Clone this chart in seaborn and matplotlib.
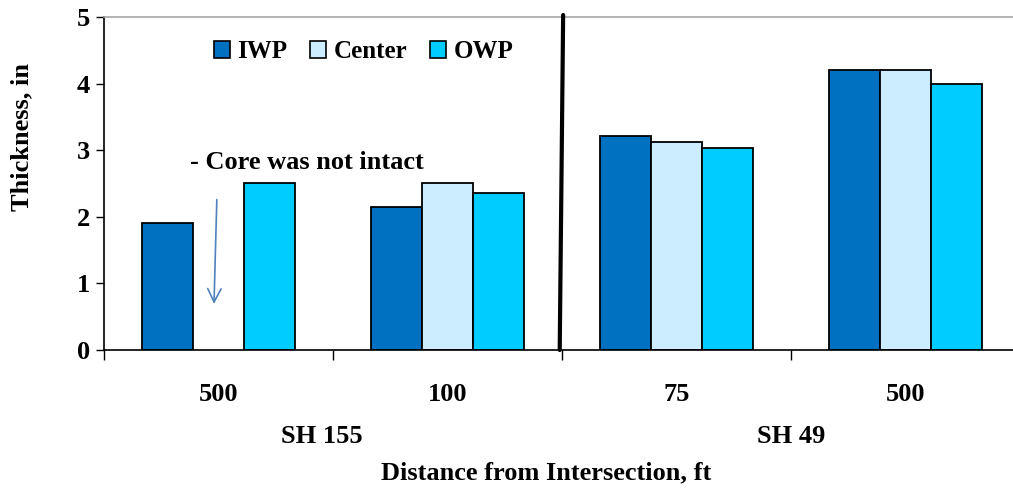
import matplotlib
matplotlib.use('Agg')
import matplotlib.pyplot as plt
from matplotlib.patches import Patch
import seaborn as sns
import pandas as pd
import numpy as np

# data
groups = ['SH155-500', 'SH155-100', 'SH49-75', 'SH49-500']
tick_labels = ['500', '100', '75', '500']
highways = ['SH 155', 'SH 49']
positions = ['IWP', 'Center', 'OWP']
iwp = [1.9, 2.15, 3.22, 4.2]
center = [np.nan, 2.5, 3.12, 4.2]
owp = [2.5, 2.35, 3.04, 4.0]
colors = ['#0070C0', '#CCECFF', '#00CCFF']

df = pd.DataFrame({
    'group': groups * 3,
    'position': ['IWP'] * 4 + ['Center'] * 4 + ['OWP'] * 4,
    'thickness': iwp + center + owp,
})

sns.set_style('white')
plt.rcParams['font.family'] = ['Liberation Serif', 'DejaVu Serif']
plt.rcParams['font.weight'] = 'bold'
plt.rcParams['text.color'] = 'black'
plt.rcParams['xtick.color'] = 'black'
plt.rcParams['ytick.color'] = 'black'
FS = 19

fig = plt.figure(figsize=(10.13, 4.94), dpi=100)
ax = fig.add_axes([104 / 1013, 144 / 494, 916 / 1013, 333 / 494])

sns.barplot(data=df, x='group', y='thickness', hue='position', order=groups,
            hue_order=positions, palette=colors, width=0.67, edgecolor='black',
            linewidth=1.3, saturation=1, legend=False, ax=ax)

ax.set_xlim(-0.5, 3.5)
ax.set_ylim(0, 5)
ax.set_yticks(range(6))
ax.set_yticklabels([str(i) for i in range(6)], fontsize=FS, fontweight='bold')
ax.set_xticks(range(4))
ax.set_xticklabels(tick_labels, fontsize=FS, fontweight='bold')
ax.tick_params(axis='x', which='major', bottom=False, length=0, pad=24)
ax.set_xticks([-0.5, 0.5, 1.5, 2.5], minor=True)
ax.tick_params(axis='x', which='minor', bottom=True, length=7, width=1,
               color='black', direction='out')
ax.tick_params(axis='y', left=True, length=6, width=1, color='black',
               direction='out', pad=4)
ax.set_xlabel('')
ax.set_ylabel('')

for s in ['left', 'bottom']:
    ax.spines[s].set_color('black')
    ax.spines[s].set_linewidth(1.2)
ax.spines['top'].set_color('#A6A6A6')
ax.spines['top'].set_linewidth(1.2)
ax.spines['right'].set_visible(False)

# divider between highways
ax.plot([1.505, 1.49], [5.03, 0], color='black', lw=3, clip_on=False, zorder=5)

# highway labels
ax.text(0.45, -0.26, highways[0], transform=ax.get_xaxis_transform(),
        ha='center', va='center', fontsize=FS, fontweight='bold')
ax.text(2.5, -0.26, highways[1], transform=ax.get_xaxis_transform(),
        ha='center', va='center', fontsize=FS, fontweight='bold')

# note for missing core
ax.text(-0.125, 2.81, '- Core was not intact', ha='left', va='center',
        fontsize=FS, fontweight='bold')
ax.annotate('', xy=(-0.02, 0.65), xytext=(-0.007, 2.3),
            arrowprops=dict(arrowstyle='->', color='#4F81BD', lw=1.2,
                            mutation_scale=24))

handles = [Patch(facecolor=c, edgecolor='black', linewidth=1.2) for c in colors]
ax.legend(handles, positions, ncol=3, frameon=False, loc='center left',
          bbox_to_anchor=(0.106, 0.895), handlelength=0.65, handleheight=0.65,
          handletextpad=0.3, columnspacing=0.9, borderpad=0,
          prop={'size': 18, 'weight': 'bold'})

fig.text(546 / 1013, 1 - 473 / 494, 'Distance from Intersection, ft',
         ha='center', va='center', fontsize=FS, fontweight='bold')
fig.text(22 / 1013, 1 - 137 / 494, 'Thickness, in', rotation=90,
         ha='center', va='center', fontsize=FS, fontweight='bold')

fig.savefig('out.png', dpi=100)
